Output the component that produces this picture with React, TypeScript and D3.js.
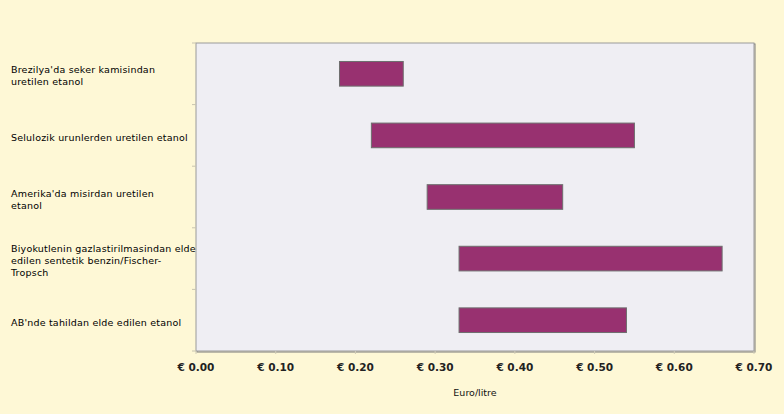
import React, { useEffect } from "react";
import * as d3 from "d3";

const categories: string[][] = [
  ["Brezilya'da seker kamisindan", "uretilen etanol"],
  ["Selulozik urunlerden uretilen etanol"],
  ["Amerika'da misirdan uretilen", "etanol"],
  ["Biyokutlenin gazlastirilmasindan elde", "edilen sentetik benzin/Fischer-", "Tropsch"],
  ["AB'nde tahildan elde edilen etanol"],
];
const lowValues = [0.18, 0.22, 0.29, 0.33, 0.33];
const highValues = [0.26, 0.55, 0.46, 0.66, 0.54];
const xTicks = [0, 0.1, 0.2, 0.3, 0.4, 0.5, 0.6, 0.7];
const xTitle = "Euro/litre";

const W = 784;
const H = 414;
const plot = { left: 196, right: 754, top: 43, bottom: 351 };

export default function App() {
  useEffect(() => {
    document.body.style.margin = "0";
  }, []);

  const x = d3.scaleLinear().domain([0, 0.7]).range([plot.left, plot.right]);
  const ids = categories.map((_, i) => String(i));
  const y = d3.scaleBand().domain(ids).range([plot.top, plot.bottom]).paddingInner(0.6).paddingOuter(0.3);
  const band = (plot.bottom - plot.top) / categories.length;
  const lineH = 12;

  return (
    <svg width={W} height={H} style={{ display: "block" }} fontFamily="'DejaVu Sans', Verdana, sans-serif">
      <rect x={0} y={0} width={W} height={H} fill="#FEF8D6" />
      <rect x={plot.left + 1} y={plot.top + 1} width={plot.right - plot.left} height={plot.bottom - plot.top} fill="none" stroke="#7a7a7a" strokeWidth={1} />
      <rect x={plot.left} y={plot.top} width={plot.right - plot.left} height={plot.bottom - plot.top} fill="#EFEEF3" stroke="#9a9a9a" strokeWidth={1} />
      {d3.range(categories.length + 1).map((i) => (
        <line key={"yt" + i} x1={plot.left - 4} x2={plot.left} y1={plot.top + i * band} y2={plot.top + i * band} stroke="#c8c4b0" strokeWidth={1} />
      ))}
      {xTicks.map((t) => (
        <line key={"xt" + t} x1={x(t)} x2={x(t)} y1={plot.bottom} y2={plot.bottom + 3} stroke="#d0ccb8" strokeWidth={1} />
      ))}
      {ids.map((id, i) => (
        <rect
          key={"b" + id}
          x={x(lowValues[i])}
          y={y(id)}
          width={x(highValues[i]) - x(lowValues[i])}
          height={y.bandwidth()}
          fill="#983170"
          stroke="#6e6e6e"
          strokeWidth={1}
        />
      ))}
      {categories.map((lines, i) => {
        const c = (y(ids[i]) as number) + y.bandwidth() / 2;
        const first = c - ((lines.length - 1) * lineH) / 2 + 5.5;
        return (
          <text key={"l" + i} x={11} fontSize={9.5} letterSpacing={0.2} fill="#000">
            {lines.map((ln, j) => (
              <tspan key={j} x={11} y={first + j * lineH}>
                {ln}
              </tspan>
            ))}
          </text>
        );
      })}
      {xTicks.map((t) => (
        <text key={"xl" + t} x={x(t)} y={371} textAnchor="middle" fontSize={10.5} fontWeight="bold" fill="#222">
          {"€ " + d3.format(".2f")(t)}
        </text>
      ))}
      <text x={(plot.left + plot.right) / 2} y={396} textAnchor="middle" fontSize={9.5} fill="#111">
        {xTitle}
      </text>
    </svg>
  );
}
